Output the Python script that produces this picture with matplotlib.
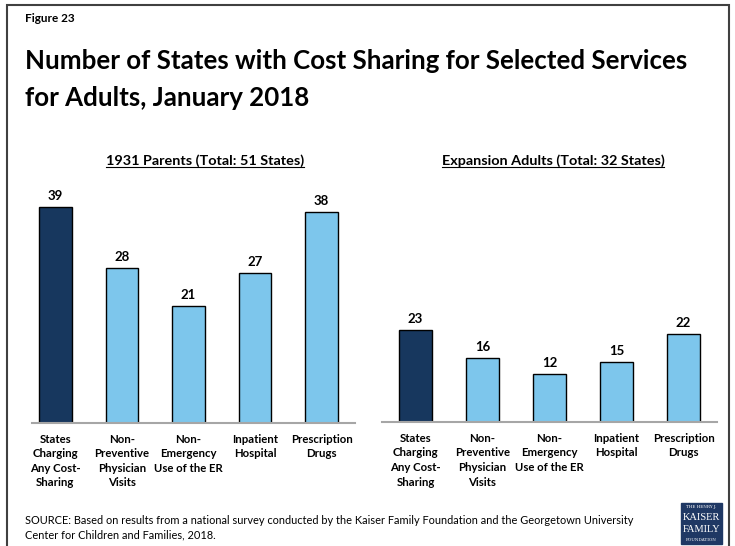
import matplotlib
matplotlib.use("Agg")
import matplotlib.pyplot as plt
from matplotlib.patches import Rectangle

plt.rcParams['font.family'] = ['Lato', 'DejaVu Sans']

categories = ["States\nCharging\nAny Cost-\nSharing", "Non-\nPreventive\nPhysician\nVisits",
              "Non-\nEmergency\nUse of the ER", "Inpatient\nHospital", "Prescription\nDrugs"]
parents_values = [39, 28, 21, 27, 38]
expansion_values = [23, 16, 12, 15, 22]
panel_titles = ["1931 Parents (Total: 51 States)", "Expansion Adults (Total: 32 States)"]

W, H = 735, 546
fig = plt.figure(figsize=(W / 100, H / 100), dpi=100)

def box(x0, y0, x1, y1):
    return [x0 / W, 1 - y1 / H, (x1 - x0) / W, (y1 - y0) / H]

# border
fig.patches.append(Rectangle((7 / W, -0.05), (729 - 7) / W, 1.05 - 5 / H, transform=fig.transFigure,
                             fill=False, edgecolor='#404040', linewidth=1.5))

fig.text(25 / W, 1 - 19 / H, "Figure 23", fontsize=8.5, fontweight='bold', va='center', ha='left')
fig.text(25 / W, 1 - 61 / H, "Number of States with Cost Sharing for Selected Services",
         fontsize=18.6, fontweight='bold', va='center', ha='left')
fig.text(25 / W, 1 - 98 / H, "for Adults, January 2018",
         fontsize=18.6, fontweight='bold', va='center', ha='left')

dark = '#17375E'
light = '#7DC6EC'

panels = [
    (parents_values, box(32, 180, 355, 422.5), (-0.35, 4.5), 5.535, 205),
    (expansion_values, box(382, 180, 717, 421.7), (-0.5, 4.5), 3.98, 553),
]

for (vals, rect, xl, scale, tx), ttl in zip(panels, panel_titles):
    ax = fig.add_axes(rect)
    hpx = rect[3] * H
    ax.set_xlim(*xl)
    ax.set_ylim(0, hpx / scale)
    colors = [dark] + [light] * (len(vals) - 1)
    bars = ax.bar(range(len(vals)), vals, width=0.49, color=colors, edgecolor='black', linewidth=1.0)
    for b, v in zip(bars, vals):
        ax.annotate(str(v), (b.get_x() + b.get_width() / 2, v), xytext=(0, 3.5), textcoords='offset points',
                    ha='center', va='bottom', fontsize=9.5, fontweight='bold')
    for s in ['top', 'right', 'left']:
        ax.spines[s].set_visible(False)
    ax.spines['bottom'].set_color('#A6A6A6')
    ax.spines['bottom'].set_linewidth(1.5)
    ax.set_yticks([])
    ax.set_xticks(range(len(vals)))
    ax.set_xticklabels(categories, fontsize=8.2, fontweight='bold', linespacing=1.4, va='top')
    ax.tick_params(axis='x', length=0, pad=8)
    ax.patch.set_alpha(0)
    fig.text(tx / W, 1 - 160.5 / H, ttl, fontsize=10.4, fontweight='bold', ha='center', va='center')
    # underline
    t = fig.texts[-1]
    fig.canvas.draw()
    bb = t.get_window_extent()
    fig.add_artist(plt.Line2D([bb.x0 / W, bb.x1 / W], [(bb.y0 - 0.5) / H, (bb.y0 - 0.5) / H],
                              transform=fig.transFigure, color='black', linewidth=0.8))

fig.text(25 / W, 1 - 521 / H, "SOURCE: Based on results from a national survey conducted by the Kaiser Family Foundation and the Georgetown University",
         fontsize=7.9, ha='left', va='center')
fig.text(25 / W, 1 - 535 / H, "Center for Children and Families, 2018.",
         fontsize=7.9, ha='left', va='center')

# logo
lx0, ly0, lx1, ly1 = 681, 503, 722, 544
fig.patches.append(Rectangle((lx0 / W, 1 - ly1 / H), (lx1 - lx0) / W, (ly1 - ly0) / H,
                             transform=fig.transFigure, color='#1F3864'))
lcx = (lx0 + lx1) / 2 / W
fig.text(lcx, 1 - 507 / H, "THE HENRY J.", fontsize=3, color='white', ha='center', va='center', family='DejaVu Serif')
fig.text(lcx, 1 - 517 / H, "KAISER", fontsize=7.5, color='white', ha='center', va='center', family='Liberation Serif')
fig.text(lcx, 1 - 530 / H, "FAMILY", fontsize=7.5, color='white', ha='center', va='center', family='Liberation Serif')
fig.text(lcx, 1 - 540 / H, "FOUNDATION", fontsize=3, color='white', ha='center', va='center', family='DejaVu Serif')

fig.savefig("out.png", dpi=100)
